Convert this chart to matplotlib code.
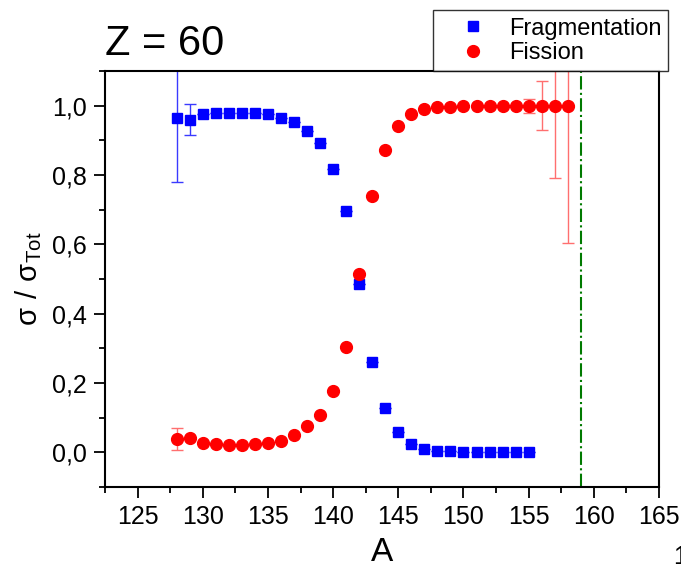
import matplotlib
matplotlib.use('Agg')
import matplotlib.pyplot as plt
from matplotlib.ticker import MultipleLocator, FuncFormatter

plt.rcParams['font.family'] = ['Liberation Sans', 'DejaVu Sans']

# fragmentation data
frag_A = list(range(128, 156))
frag_y = [0.965, 0.960, 0.975, 0.978, 0.980, 0.980, 0.978, 0.975, 0.965, 0.952,
          0.928, 0.893, 0.818, 0.697, 0.487, 0.262, 0.128, 0.060, 0.025, 0.010,
          0.004, 0.003, 0.002, 0.002, 0.001, 0.001, 0.001, 0.001]
frag_err = [0.185, 0.045] + [0.0] * 26

# fission data
fis_A = list(range(128, 159))
fis_y = [0.038, 0.042, 0.028, 0.025, 0.022, 0.022, 0.024, 0.026, 0.034, 0.050,
         0.075, 0.108, 0.178, 0.304, 0.513, 0.738, 0.872, 0.940, 0.975, 0.990,
         0.996, 0.997, 0.998, 0.999, 0.999, 1.000, 1.000, 1.000, 1.000, 1.000,
         1.000]
fis_err = [0.032] + [0.0] * 26 + [0.02, 0.07, 0.21, 0.395]

A_max = 159

fig = plt.figure(figsize=(6.81, 5.68), dpi=100)
ax = fig.add_axes([105 / 681, 81 / 568, 554 / 681, 416 / 568])

ax.errorbar(frag_A, frag_y, yerr=frag_err, fmt='none', ecolor='#3a3aff',
            elinewidth=1, capsize=4, capthick=1, zorder=2)
ax.errorbar(fis_A, fis_y, yerr=fis_err, fmt='none', ecolor='#ff6f6f',
            elinewidth=1, capsize=4, capthick=1, zorder=2)
ax.plot(frag_A, frag_y, 's', color='#0000ff', markersize=7.5,
        label='Fragmentation', zorder=3)
ax.plot(fis_A, fis_y, 'o', color='#ff0000', markersize=8.5,
        label='Fission', zorder=3)
ax.axvline(A_max, color='#007a00', linestyle='-.', linewidth=1.5, zorder=1)

ax.set_xlim(122.5, 165)
ax.set_ylim(-0.1, 1.1)
ax.xaxis.set_major_locator(MultipleLocator(5))
ax.xaxis.set_minor_locator(MultipleLocator(2.5))
ax.yaxis.set_major_locator(MultipleLocator(0.2))
ax.yaxis.set_minor_locator(MultipleLocator(0.1))
ax.yaxis.set_major_formatter(FuncFormatter(lambda v, p: ('%.1f' % v).replace('.', ',').replace('-0,0', '0,0')))
ax.tick_params(which='major', direction='out', length=8, width=1.3, labelsize=18)
ax.tick_params(which='minor', direction='out', length=4, width=1.3)
ax.tick_params(axis='y', which='major', pad=5)
ax.tick_params(axis='x', which='major', pad=5)
for s in ax.spines.values():
    s.set_linewidth(1.5)

ax.set_xlabel('A', fontsize=24, labelpad=6)
ax.set_ylabel(r'$\mathregular{\sigma\ /\ \sigma_{Tot}}$', fontsize=21, labelpad=6)

fig.text(105 / 681, 1 - 44 / 568, 'Z = 60', fontsize=30, va='center', ha='left')
fig.text(673 / 681, 1 - 557 / 568, '1', fontsize=18, va='center', ha='left')

leg = ax.legend(loc='lower right', bbox_to_anchor=(1.017, 1.0), fontsize=17,
                frameon=True, fancybox=False, edgecolor='black',
                borderaxespad=0, handletextpad=0.1, borderpad=0.3,
                labelspacing=0.1, handlelength=2.8)
leg.get_frame().set_linewidth(1.0)

fig.savefig('out.png', dpi=100)
